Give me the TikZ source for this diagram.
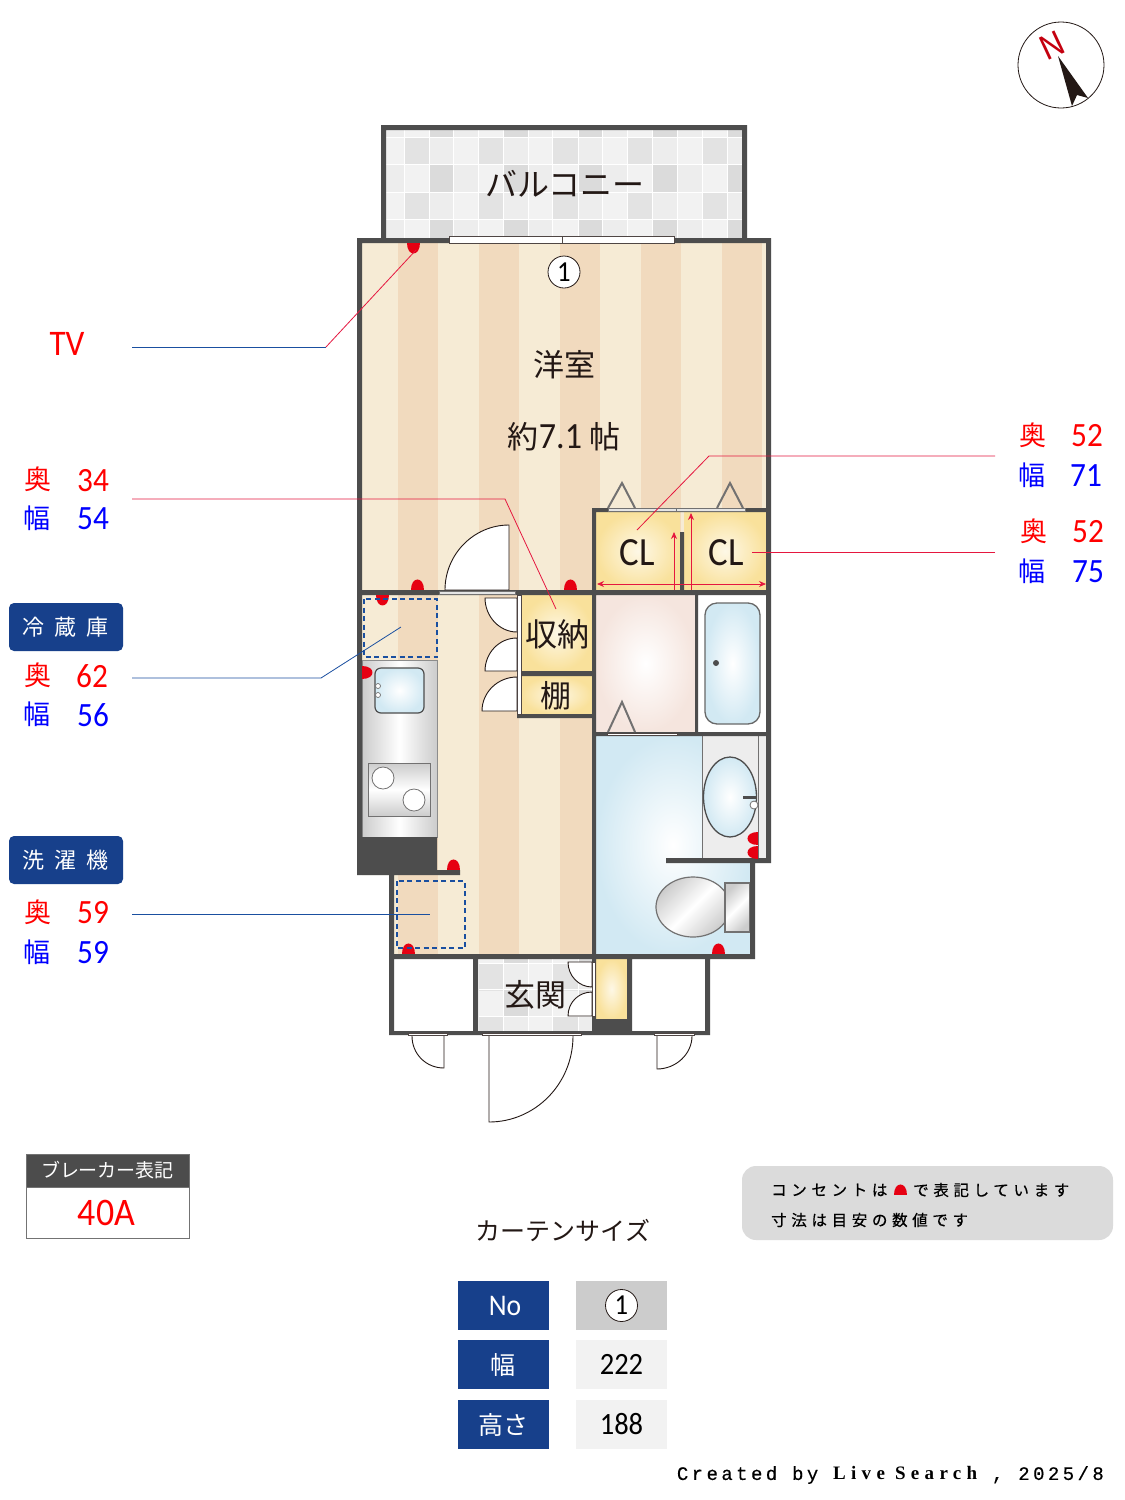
\documentclass[tikz,border=0pt]{standalone}
\usepackage{fontspec}
\setmainfont{Noto Sans CJK JP}
\newfontfamily\numfont[FakeStretch=0.92]{Carlito}
\newfontfamily\notefont[LetterSpace=30,FakeBold=0.5]{Noto Sans CJK JP}
\newfontfamily\creditsans[LetterSpace=18,FakeBold=0.4]{Liberation Mono}
\newfontfamily\creditserif[LetterSpace=28]{Liberation Serif}
\usetikzlibrary{arrows.meta}
\definecolor{wallgray}{HTML}{4D4D4D}
\definecolor{floorpale}{HTML}{F6EBD5}
\definecolor{floordark}{HTML}{F1DABE}
\definecolor{closetyellow}{HTML}{F9E19B}
\definecolor{outletred}{HTML}{E60012}
\definecolor{leaderred}{HTML}{E5173F}
\definecolor{leaderblue}{HTML}{1A4FA0}
\definecolor{navy}{HTML}{17408B}
\definecolor{fixturegray}{HTML}{727171}
\definecolor{inkblack}{HTML}{231815}
\definecolor{washblue}{HTML}{D2E9F3}
\definecolor{washpink}{HTML}{F5E5DE}
\newcommand{\fs}[1]{\fontsize{#1}{#1}\selectfont}
\newcommand{\outlet}[3]{\fill[outletred,shift={(#1,#2)},rotate=#3] (-6.5,0) .. controls (-6.5,-14) and (6.5,-14) .. (6.5,0) -- cycle;}
\tikzset{
  roomlabel/.style={inner sep=0pt,text=inkblack,font=\fs{31}},
  numlabel/.style={inner sep=0pt,font=\numfont\fs{34}},
  depthmark/.style={inner sep=0pt,text=red,font=\fs{27}},
  widthmark/.style={inner sep=0pt,text=blue,font=\fs{27}},
  headbox/.style={fill=navy,rounded corners=5pt,minimum width=114pt,minimum height=48pt,inner sep=0pt,text=white,font=\fs{22}},
  cellhead/.style={fill=navy,minimum width=91pt,minimum height=49pt,inner sep=0pt,text=white},
  cellbody/.style={fill=black!5,minimum width=91pt,minimum height=49pt,inner sep=0pt,text=black,font=\numfont\fs{31}},
  curtainmark/.style={circle,draw=inkblack,fill=white,line width=.8pt,minimum size=32pt,inner sep=0pt,font=\numfont\fs{29}},
  doorleaf/.style={draw=inkblack,fill=white,line width=.9pt},
  railbar/.style={draw=inkblack!80,fill=white,line width=.9pt},
  closetrail/.style={draw=fixturegray,fill=black!10,line width=.7pt},
  doortriangle/.style={draw=fixturegray,line width=2pt},
  fixture/.style={draw=fixturegray,line width=1.2pt},
  dashedbox/.style={draw=leaderblue,dashed,dash pattern=on 5pt off 3.5pt,line width=1.6pt},
  leaderr/.style={draw=leaderred,line width=.8pt},
  leaderb/.style={draw=leaderblue,line width=.8pt},
  closetarrow/.style={draw=leaderred,line width=.8pt,{Stealth[length=7pt,width=6pt]}-{Stealth[length=7pt,width=6pt]}}
}
\begin{document}
\begin{tikzpicture}[x=1pt,y=-1pt]
\useasboundingbox (0,0) rectangle (1125,1500);
\fill[white] (0,0) rectangle (1125,1500);
% tiles of balcony and entrance
\begin{scope}
\clip (386,130) rectangle (742,238) (478,959) rectangle (592,1031);
\fill[black!5] (386,130) rectangle (742,238) (478,959) rectangle (592,1031);
\foreach \x in {329.5,404,478.5,553,627.5,702}{
  \foreach \y in {137,192,963,1016}{
    \fill[black!11] (\x,\y) rectangle (\x+24.8,\y+27.5);
    \fill[black!7] (\x+24.8,\y) rectangle (\x+49.7,\y+27.5);
  }
  \foreach \y in {110,164.5,219.5,936,989.5}{
    \fill[black!14] (\x+24.8,\y) rectangle (\x+49.7,\y+27.5);
    \fill[black!7] (\x+49.7,\y) rectangle (\x+74.5,\y+27.5);
  }
}
\foreach \x in {404,429,453,478,503,528,552,578,602,627,652,677,702,727}
  \draw[white,line width=.8pt] (\x,130) -- (\x,238) (\x,959) -- (\x,1031);
\foreach \y in {137,164,192,219,963,989,1016}
  \draw[white,line width=.8pt] (386,\y) -- (742,\y) (478,\y) -- (592,\y);
\end{scope}
% floors
\fill[floorpale] (362,243) rectangle (766,590) (362,595) rectangle (592,875) (394,875) rectangle (592,954);
\foreach \x in {398,479,560,641,722} \fill[floordark] (\x,243) rectangle (\x+40,590);
\foreach \x in {398,479} \fill[floordark] (\x,595) rectangle (\x+40,954);
\fill[floordark] (560,595) rectangle (592,954);
% closets
\shade[inner color=closetyellow!25,outer color=closetyellow] (596,512) rectangle (680,590);
\shade[inner color=closetyellow!25,outer color=closetyellow] (684,512) rectangle (766,590);
\shade[inner color=closetyellow!25,outer color=closetyellow] (521,595) rectangle (592,671);
\shade[inner color=closetyellow!25,outer color=closetyellow] (521,676) rectangle (592,714);
\shade[inner color=closetyellow!25,outer color=closetyellow] (596,959) rectangle (627,1019);
% wash room, bath, toilet
\shade[inner color=white,outer color=washpink] (596,595) rectangle (695,732);
\fill[white] (698,595) rectangle (766,732);
\shadedraw[inner color=white,outer color=washblue,draw=wallgray!85,line width=1.3pt,rounded corners=12pt] (705,603) rectangle (760,724);
\fill[wallgray] (716,663) circle (3);
\shade[inner color=white,outer color=washblue] (596,736) rectangle (750,954);
\fill[black!7] (702,736) rectangle (766,858);
\draw[fixturegray,line width=.7pt] (702,736) -- (702,858) (758,736) -- (758,858);
\shadedraw[inner color=white,outer color=washblue,draw=wallgray,line width=1.3pt] (730,797) ellipse (26.5 and 40);
\draw[wallgray,line width=3pt] (743,797) -- (757,797);
\draw[fixture,fill=white,line width=.8pt] (754,805) circle (4);
\shadedraw[fixture,top color=black!20,bottom color=black!20,middle color=white,shading angle=45] (693,907) ellipse (37 and 30);
\shadedraw[fixture,top color=black!20,bottom color=black!20,middle color=white,shading angle=45] (725,883) rectangle (750,932);
% kitchen
\shadedraw[draw=black!45,line width=1pt,left color=black!20,right color=black!20,middle color=white] (362,660) rectangle (437,837);
\shadedraw[draw=wallgray,line width=1.2pt,inner color=white,outer color=washblue,rounded corners=6pt] (375,668) rectangle (424,713);
\draw[fixture,fill=white,line width=.7pt] (378,686) circle (2.5) (378,695) circle (2.5);
\shadedraw[fixture,line width=.9pt,top color=black!20,bottom color=black!20,middle color=white] (368,763) rectangle (430,816);
\draw[fixture,fill=white,line width=.8pt] (383,778) circle (11) (414,800) circle (11);
% walls
\fill[wallgray] (381,125) rectangle (747,130) (381,125) rectangle (386,241) (742,125) rectangle (747,241)
  (357,238) rectangle (771,243) (357,238) rectangle (362,875) (766,238) rectangle (771,863)
  (357,590) rectangle (771,595) (592,508) rectangle (771,512) (592,508) rectangle (596,959)
  (680,532) rectangle (684,590) (695,595) rectangle (698,732) (592,732) rectangle (771,736)
  (666,858) rectangle (771,863) (750,858) rectangle (755,959) (389,954) rectangle (755,959)
  (389,875) rectangle (394,1035) (357,837) rectangle (437,875) (437,870) rectangle (460,875)
  (517,714) rectangle (592,718) (521,671) rectangle (592,676) (389,1031) rectangle (710,1035)
  (473,959) rectangle (478,1035) (592,959) rectangle (596,1035) (627,959) rectangle (632,1035)
  (592,1019) rectangle (632,1035) (705,954) rectangle (710,1035);
% windows and rails
\draw[railbar] (449,236) rectangle (562,243) (562,236) rectangle (674,243);
\draw[closetrail] (439,591) rectangle (515,594);
\draw[closetrail] (608,508) rectangle (676,511) (676,508) rectangle (745,511);
\draw[railbar,line width=.6pt] (607,733) rectangle (677,735);
\draw[railbar,line width=.7pt] (408,1033) rectangle (447,1035) (482,1033) rectangle (581,1035) (654,1033) rectangle (694,1035);
\draw[railbar,line width=.7pt] (517,595) rectangle (521,714) (592,962) rectangle (595,1016);
\draw[doortriangle] (608,508) -- (622,483) -- (635,508);
\draw[doortriangle] (717,508) -- (730,483) -- (743,508);
\draw[doortriangle] (608,732) -- (622,702) -- (635,732);
% doors
\draw[doorleaf] (509,590) -- (509,525) .. controls (474,525) and (445,554) .. (445,590) -- cycle;
\draw[doorleaf] (517,598) -- (485,598) .. controls (485,616) and (499,632) .. (517,632) -- cycle;
\draw[doorleaf] (517,671) -- (485,671) .. controls (485,653) and (499,638) .. (517,638) -- cycle;
\draw[doorleaf] (517,711) -- (482,711) .. controls (482,692) and (498,677) .. (517,677) -- cycle;
\draw[doorleaf] (592,962) -- (568,962) .. controls (568,976) and (579,987) .. (592,987) -- cycle;
\draw[doorleaf] (592,1016) -- (568,1016) .. controls (568,1002) and (579,992) .. (592,992) -- cycle;
\draw[doorleaf,fill=none] (412,1036) .. controls (412,1054) and (426,1068) .. (444,1068) -- (444,1036);
\draw[doorleaf,fill=none] (489,1036) -- (489,1122) .. controls (535,1122) and (573,1084) .. (573,1036);
\draw[doorleaf,fill=none] (657,1036) -- (657,1069) .. controls (676,1069) and (692,1054) .. (692,1036);
% closet arrows
\coordinate (clfoot) at (674,590);
\coordinate (cltip) at (674,532);
\coordinate (crfoot) at (691,590);
\coordinate (crtip) at (691,513);
\coordinate (clleft) at (597,584);
\coordinate (clright) at (766,584);
\draw[leaderr,-{Stealth[length=7pt,width=6pt]}] (clfoot) -- (cltip);
\draw[leaderr,-{Stealth[length=7pt,width=6pt]}] (crfoot) -- (crtip);
\draw[closetarrow] (clleft) -- (clright);
% outlets
\outlet{413}{243}{180}
\outlet{417}{590}{0}
\outlet{570}{590}{0}
\outlet{382}{595}{180}
\outlet{362}{672}{-90}
\outlet{453}{870}{0}
\outlet{408}{954}{0}
\outlet{718}{954}{0}
\outlet{758}{838}{90}
\outlet{758}{852}{90}
% appliances
\draw[dashedbox] (364,599) rectangle (437,657);
\draw[dashedbox] (397,881) rectangle (465,948);
% room names
\node[roomlabel,font=\fs{32}] (balcony) at (565,184) {バルコニー};
\node[curtainmark] (curtainone) at (564,272) {1};
\node[roomlabel] (western) at (564,365) {洋室};
\node[roomlabel,font=\fs{31}] (westernsize) at (564,437) {約{\numfont\fs{37}7.1} 帖};
\node[roomlabel,font=\numfont\fs{40}] (cleft) at (637,553) {CL};
\node[roomlabel,font=\numfont\fs{40}] (cright) at (726,553) {CL};
\node[roomlabel,font=\fs{32}] (storage) at (557,634) {収納};
\node[roomlabel] (shelf) at (556,696) {棚};
\node[roomlabel] (entrance) at (535,995) {玄関};
% compass
\node[circle,draw=inkblack,line width=.8pt,minimum size=86pt,inner sep=0pt] (compass) at (1061,65) {};
\node[inner sep=0pt,text=outletred!85!black,rotate=25,font=\fs{33}] (north) at (1052,45) {N};
\fill[inkblack] (1058,56) -- (1088,98) -- (1077,95) -- (1072,106) -- cycle;
% left labels
\node[inner sep=0pt,text=red,font=\numfont\fs{36}] (tv) at (67,344) {TV};
\node[depthmark] (d1) at (38,479) {奥};
\node[numlabel,text=red] (dv1) at (93,481) {34};
\node[widthmark] (w1) at (37,518) {幅};
\node[numlabel,text=blue] (wv1) at (93,519) {54};
\node[headbox] (fridge) at (66,627) {冷\kern10pt 蔵\kern10pt 庫};
\node[depthmark] (d2) at (38,675) {奥};
\node[numlabel,text=red] (dv2) at (92,676) {62};
\node[widthmark] (w2) at (37,714) {幅};
\node[numlabel,text=blue] (wv2) at (93,715) {56};
\node[headbox] (washer) at (66,860) {洗\kern10pt 濯\kern10pt 機};
\node[depthmark] (d3) at (38,912) {奥};
\node[numlabel,text=red] (dv3) at (93,913) {59};
\node[widthmark] (w3) at (37,952) {幅};
\node[numlabel,text=blue] (wv3) at (93,953) {59};
% right labels
\node[depthmark] (d4) at (1033,435) {奥};
\node[numlabel,text=red] (dv4) at (1087,436) {52};
\node[widthmark] (w4) at (1032,475) {幅};
\node[numlabel,text=blue] (wv4) at (1086,476) {71};
\node[depthmark] (d5) at (1034,531) {奥};
\node[numlabel,text=red] (dv5) at (1088,532) {52};
\node[widthmark] (w5) at (1032,571) {幅};
\node[numlabel,text=blue] (wv5) at (1088,572) {75};
% leaders
\coordinate (tva) at (132,347);
\coordinate (tvb) at (326,347);
\coordinate (tvc) at (416,250);
\coordinate (sta) at (132,499);
\coordinate (stb) at (505,499);
\coordinate (stc) at (556,609);
\coordinate (fra) at (132,678);
\coordinate (frb) at (321,678);
\coordinate (frc) at (401,627);
\coordinate (waa) at (132,914);
\coordinate (wab) at (430,914);
\coordinate (cla) at (995,456);
\coordinate (clb) at (709,456);
\coordinate (clc) at (637,530);
\coordinate (cra) at (995,552);
\coordinate (crb) at (752,552);
\draw[leaderb] (tva) -- (tvb);
\draw[leaderr] (tvb) -- (tvc);
\draw[leaderr] (sta) -- (stb) -- (stc);
\draw[leaderb] (fra) -- (frb) -- (frc);
\draw[leaderb] (waa) -- (wab);
\draw[leaderr] (cla) -- (clb) -- (clc);
\draw[leaderr] (cra) -- (crb);
% breaker
\node[draw=black!55,line width=.8pt,fill=white,minimum width=163pt,minimum height=51pt,inner sep=0pt,text=red,font=\numfont\fs{39}] (breakerval) at (107.5,1212.5) {40A\kern2pt};
\node[draw=black!55,line width=.8pt,fill=black!70,minimum width=163pt,minimum height=33pt,inner sep=0pt,text=white,font=\fs{19}] (breakerhead) at (107.5,1170.5) {ブレーカー表記};
% note
\node[fill=black!14,rounded corners=14pt,minimum width=371pt,minimum height=74pt,inner sep=0pt] (notebox) at (927.5,1203) {};
\node[anchor=west,inner sep=0pt,font=\notefont\fs{15.5}] (notea) at (771,1190) {コンセントは};
\outlet{900}{1195}{0}
\node[anchor=west,inner sep=0pt,font=\notefont\fs{15.5}] (noteb) at (913,1190) {で表記しています};
\node[anchor=west,inner sep=0pt,font=\notefont\fs{15.5}] (notec) at (771,1220) {寸法は目安の数値です};
% curtain table
\node[inner sep=0pt,text=inkblack,font=\fs{25}] (curtaintitle) at (563,1230) {カーテンサイズ};
\node[cellhead,font=\numfont\fs{30}] (hno) at (503,1305.5) {\kern4pt No};
\node[cellbody,fill=black!20] (bno) at (621.5,1305.5) {};
\node[curtainmark] (mno) at (621.5,1305.5) {1};
\node[cellhead,font=\fs{25}] (hwd) at (503,1364.5) {幅};
\node[cellbody] (bwd) at (621.5,1364.5) {222};
\node[cellhead,font=\fs{25}] (hht) at (503,1424.5) {高さ};
\node[cellbody] (bht) at (621.5,1424.5) {188};
% credit
\node[anchor=east,inner sep=0pt,font=\fs{19}] (credit) at (1104,1475) {{\creditsans Created by }{\creditserif\bfseries Live Search}{\creditsans{} , 2025/8}};
\end{tikzpicture}
\end{document}
